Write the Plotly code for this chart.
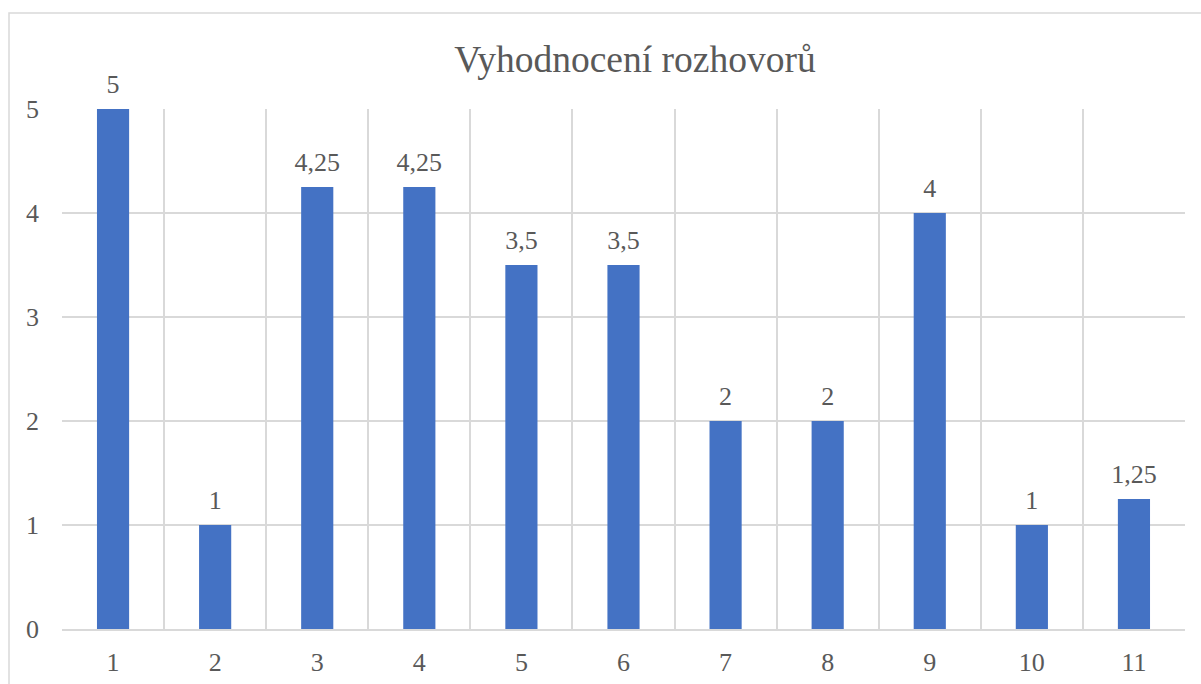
import plotly.graph_objects as go

categories = ["1", "2", "3", "4", "5", "6", "7", "8", "9", "10", "11"]
values = [5, 1, 4.25, 4.25, 3.5, 3.5, 2, 2, 4, 1, 1.25]
title_text = "Vyhodnocení rozhovorů"

labels = [f"{v:g}".replace(".", ",") for v in values]

TXT = "#595959"
GRID = "#D9D9D9"
FONT = "Times New Roman, Liberation Serif, DejaVu Serif, serif"

fig = go.Figure()
fig.add_trace(
    go.Bar(
        x=categories,
        y=values,
        marker=dict(color="#4472C4", line=dict(width=0)),
        width=0.315,
        hoverinfo="skip",
    )
)
fig.add_trace(
    go.Scatter(
        x=categories,
        y=values,
        mode="markers+text",
        text=labels,
        textposition="top center",
        textfont=dict(family=FONT, size=26, color=TXT),
        marker=dict(size=14, opacity=0),
        cliponaxis=False,
        hoverinfo="skip",
    )
)

fig.update_layout(
    width=1201,
    height=684,
    margin=dict(l=62, r=16, t=109, b=55, autoexpand=False),
    paper_bgcolor="white",
    plot_bgcolor="white",
    showlegend=False,
    font=dict(family=FONT, color=TXT, size=26),
    title=dict(
        text=title_text,
        x=635 / 1201,
        xanchor="center",
        xref="container",
        y=1 - 59 / 684,
        yanchor="middle",
        yref="container",
        font=dict(family=FONT, size=37.5, color=TXT),
    ),
    xaxis=dict(
        type="category",
        range=[-0.5, len(categories) - 0.5],
        tickson="boundaries",
        showgrid=True,
        gridcolor=GRID,
        gridwidth=1.5,
        showline=True,
        linecolor=GRID,
        linewidth=1.5,
        ticks="",
        automargin=False,
        ticklabelstandoff=9,
        tickfont=dict(family=FONT, size=26, color=TXT),
    ),
    yaxis=dict(
        range=[0, 5],
        dtick=1,
        showgrid=True,
        gridcolor=GRID,
        gridwidth=1.5,
        zeroline=False,
        showline=False,
        ticks="",
        automargin=False,
        ticklabelstandoff=22,
        tickfont=dict(family=FONT, size=26, color=TXT),
    ),
    shapes=[
        dict(
            type="rect",
            xref="paper",
            yref="paper",
            x0=(9 - 62) / 1123,
            x1=1.2,
            y0=-0.3,
            y1=(629 - 13) / 520,
            line=dict(color=GRID, width=1.5),
            fillcolor="rgba(0,0,0,0)",
            layer="below",
        )
    ],
)

fig.write_html(
    "out.html",
    config=dict(displayModeBar=False),
    post_script="document.body.style.margin='0';document.body.style.overflow='hidden';",
)
